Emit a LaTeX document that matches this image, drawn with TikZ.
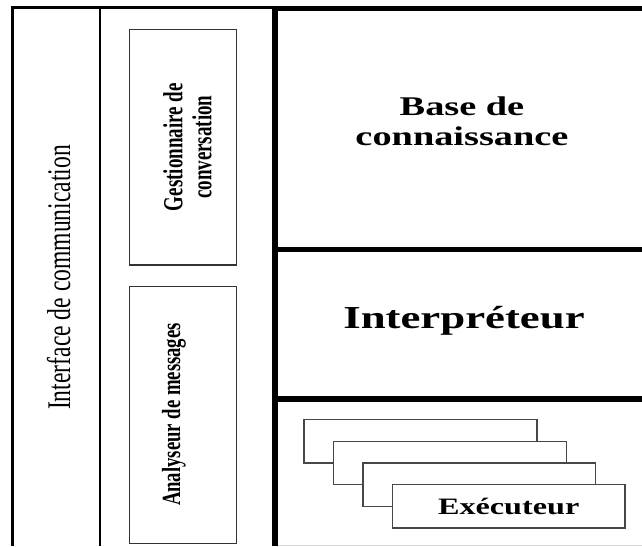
\documentclass[tikz,border=0pt]{standalone}
\usepackage{fontspec}
\setmainfont{Liberation Serif}
\usepackage{graphicx}
\begin{document}
\begin{tikzpicture}[x=1pt,y=-1pt,
  frame/.style={line width=2.6pt, black},
  heavy/.style={line width=5.5pt, black},
  panel/.style={draw=black!80, line width=1.2pt, fill=white, inner sep=0pt,
    minimum width=107.4pt},
  card/.style={draw=black!72, line width=1.4pt, fill=white, inner sep=0pt,
    minimum width=232.7pt, minimum height=43.3pt},
  label/.style={inner sep=0pt},
]
\useasboundingbox (0,0) rectangle (642,546);

% left columns: communication interface and dialogue modules
\draw[frame] (12.5,546) -- (12.5,7.5) -- (275,7.5);
\draw[frame] (100,7.5) -- (100,546);

% right block split into three layers
\draw[heavy] (275,546) -- (275,8.5) -- (642,8.5);
\draw[heavy] (275,249.5) -- (642,249.5);
\draw[heavy] (275,399) -- (642,399);
\draw[black!15, line width=1pt] (278,545.5) -- (642,545.5);

% dialogue modules
\node[panel, minimum height=235.7pt] (gest) at (183,147.2) {};
\node[panel, minimum height=257.4pt] (analy) at (183,415) {};

\node[label, rotate=90, anchor=base] (iface) at (70,277.5)
  {\fontsize{23.6}{26}\selectfont\scalebox{1}[1.4]{Interface de communication}};

\node[label, rotate=90] (gestlbl) at (191,147.2)
  {\fontsize{19}{20}\selectfont\bfseries\scalebox{1}[1.45]{%
    \begin{tabular}{@{}c@{}}Gestionnaire de\\conversation\end{tabular}}};

\node[label, rotate=90, anchor=base] (analylbl) at (180,414.5)
  {\fontsize{18.7}{20}\selectfont\bfseries\scalebox{1}[1.4]{Analyseur de messages}};

% knowledge base and interpreter
\node[label] (base) at (462,124)
  {\fontsize{27}{30}\selectfont\bfseries\scalebox{1.42}[1]{%
    \begin{tabular}{@{}c@{}}Base de\\connaissance\end{tabular}}};

\node[label, anchor=base] (interp) at (464,328)
  {\fontsize{32}{36}\selectfont\bfseries\scalebox{1.4}[1]{Interpréteur}};

% stacked executors
\node[card] (ex1) at (420.5,441.3) {};
\node[card] (ex2) at (449.9,463.0) {};
\node[card] (ex3) at (479.3,484.7) {};
\node[card] (ex4) at (508.7,506.4)
  {\fontsize{23.5}{26}\selectfont\bfseries\scalebox{1.37}[1]{Exécuteur}};
\end{tikzpicture}
\end{document}
